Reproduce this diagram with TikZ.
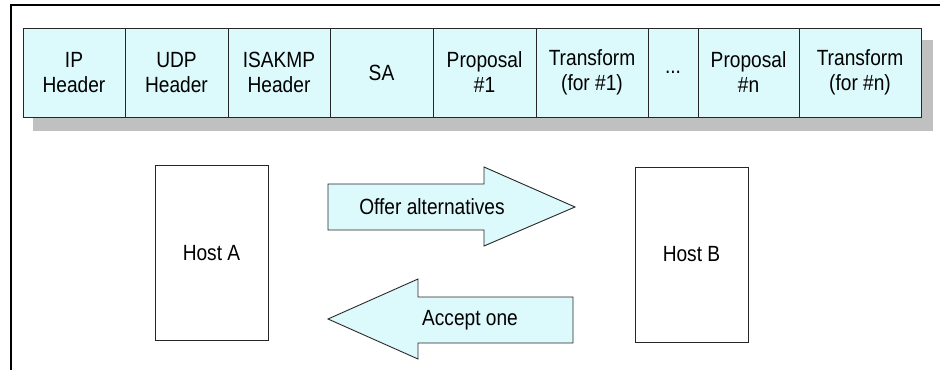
\documentclass[tikz,border=0pt]{standalone}
\usepackage{fontspec}
\setmainfont{Liberation Sans}[FakeStretch=0.87]
\usetikzlibrary{positioning, backgrounds}
\definecolor{cellfill}{RGB}{220,249,252}
\definecolor{shadowgray}{RGB}{192,192,192}

\begin{document}
\begin{tikzpicture}[
  x=1pt, y=-1pt,
  node distance=0pt,
  cell/.style={rectangle, draw=black!85, fill=cellfill, line width=0.9pt, minimum height=89pt, inner sep=0pt, outer sep=0pt, align=center, font=\fontsize{22}{25}\selectfont},
  host/.style={rectangle, draw=black!85, line width=0.9pt, minimum width=113pt, minimum height=175pt, font=\fontsize{22}{25}\selectfont},
  bigarrow/.style={draw=black!85, fill=cellfill, line width=0.9pt, line join=miter},
  lbl/.style={font=\fontsize{22}{25}\selectfont, inner sep=0pt}
]
\useasboundingbox (0,0) rectangle (940,370);
\draw[line width=1.3pt] (11,370) -- (11,5) -- (940,5);
% packet layout
\node[cell, minimum width=102pt, anchor=north west] (ip) at (23,28) {IP\\Header};
\node[cell, minimum width=103pt, right=of ip] (udp) {UDP\\Header};
\node[cell, minimum width=102pt, right=of udp] (isakmp) {ISAKMP\\Header};
\node[cell, minimum width=103pt, right=of isakmp] (sa) {SA};
\node[cell, minimum width=103pt, right=of sa] (prop1) {Proposal\\\#1};
\node[cell, minimum width=112pt, right=of prop1] (trans1) {Transform\\(for \#1)};
\node[cell, minimum width=50pt, right=of trans1] (dots) {...};
\node[cell, minimum width=101pt, right=of dots] (propn) {Proposal\\\#n};
\node[cell, minimum width=122pt, right=of propn] (transn) {Transform\\(for \#n)};
\begin{scope}[on background layer]
  \fill[shadowgray] ([shift={(10,12)}]ip.north west) rectangle ([shift={(12,14)}]transn.south east);
\end{scope}
% hosts
\node[host] (hosta) at (211.5,253) {Host A};
\node[host] (hostb) at (691.5,254.5) {Host B};
% exchange
\draw[bigarrow] (328,184) -- (484,184) -- (484,167) -- (575,207) -- (484,246) -- (484,230) -- (328,230) -- cycle;
\node[lbl] (offer) at (432,207) {Offer alternatives};
\draw[bigarrow] (573,297) -- (418,297) -- (418,279) -- (328,319) -- (418,359) -- (418,343) -- (573,343) -- cycle;
\node[lbl] (accept) at (470,320) {Accept one};
\end{tikzpicture}
\end{document}
